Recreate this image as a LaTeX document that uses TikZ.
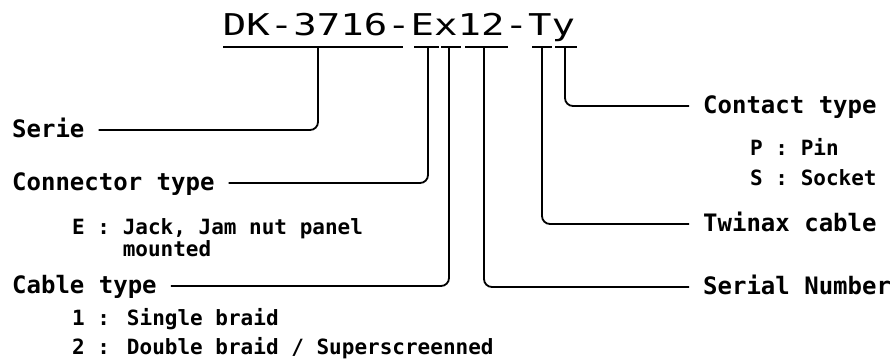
\documentclass[tikz,border=0pt]{standalone}
\usepackage{fontspec}
\newfontfamily\plotfont{DejaVu Sans Mono}

\begin{document}
\begin{tikzpicture}[x=1pt, y=-1pt,
    codetext/.style={font=\plotfont\fontsize{30}{30}\selectfont, inner sep=0pt},
    tag/.style={font=\plotfont\bfseries\fontsize{24}{24}\selectfont, text height=14pt, text depth=0pt, inner ysep=0pt, inner xsep=14pt, anchor=base west},
    opt/.style={font=\plotfont\bfseries\fontsize{21}{21}\selectfont, inner sep=0pt, anchor=base west},
    uline/.style={line width=1.4pt},
    leader/.style={line width=1.8pt, rounded corners=8pt}]
            \useasboundingbox (0,0) rectangle (895,362);

            % Part number
            \node[codetext, anchor=base] (code) at (399,35) {\scalebox{1.3}[1]{DK-3716-Ex12-Ty}};

            % Underlines
            \draw[uline] (223,47) -- (403,47);
            \draw[uline] (414,47) -- (439,47);
            \draw[uline] (441,47) -- (461,47);
            \draw[uline] (465,47) -- (508,47);
            \draw[uline] (532,47) -- (552,47);
            \draw[uline] (555,47) -- (577,47);

            % Leader start points
            \coordinate (tSerie) at (318,47);
            \coordinate (tConn) at (428,47);
            \coordinate (tCable) at (449,47);
            \coordinate (tSerial) at (484,47);
            \coordinate (tTwinax) at (542,47);
            \coordinate (tContact) at (565,47);

            % Left labels
            \node[tag] (serie) at (-2,137) {Serie};
            \node[tag] (conn) at (-2,190) {Connector type};
            \node[opt] (connE) at (72,234) {E : Jack, Jam nut panel};
            \node[opt] (connE2) at (72,256) {\phantom{E :} mounted};
            \node[tag] (cable) at (-2,293) {Cable type};
            \node[opt] (cable1) at (72,325) {1 : Single braid};
            \node[opt] (cable2) at (72,354) {2 : Double braid / Superscreenned};

            % Right labels
            \node[tag] (contact) at (689,113) {Contact type};
            \node[opt] (contactP) at (750,155) {P : Pin};
            \node[opt] (contactS) at (750,185) {S : Socket};
            \node[tag] (twinax) at (689,231) {Twinax cable};
            \node[tag] (serial) at (689,294) {Serial Number};

            % Leaders
            \draw[leader] (tSerie) |- (serie.east);
            \draw[leader] (tConn) |- (conn.east);
            \draw[leader] (tCable) |- (cable.east);
            \draw[leader] (tSerial) |- (serial.west);
            \draw[leader] (tTwinax) |- (twinax.west);
            \draw[leader] (tContact) |- (contact.west);
        \end{tikzpicture}
\end{document}
